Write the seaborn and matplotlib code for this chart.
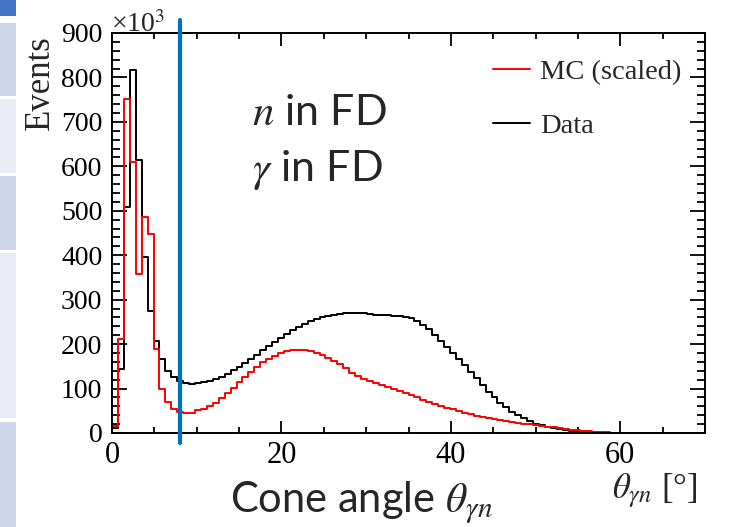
import numpy as np
import pandas as pd
import matplotlib
matplotlib.use("Agg")
import matplotlib.pyplot as plt
from matplotlib.lines import Line2D
from matplotlib.patches import Rectangle
import seaborn as sns

# Histogram binning: 100 bins over 0-70 degrees
bin_edges = np.linspace(0.0, 70.0, 101)
bin_centers = 0.5 * (bin_edges[:-1] + bin_edges[1:])

# Events per bin, in units of 10^3
data_counts = [
    12, 145, 508, 816, 614, 396, 275, 208, 166, 140,
    125, 116, 112, 111, 112, 114, 118, 122, 127, 133,
    141, 149, 157, 166, 176, 186, 196, 205, 214, 223,
    231, 239, 246, 252, 257, 261, 264, 266, 268, 269,
    270, 270, 269, 267, 266, 265, 265, 264, 263, 261,
    258, 252, 243, 233, 220, 207, 193, 180, 166, 153,
    138, 123, 108, 93, 80, 68, 58, 48, 40, 33,
    27, 21, 17, 14, 11, 9, 7, 5.5, 4.2, 3.0,
    2.2, 1.5, 1.0, 0.6, 0.4, 0.2, 0, 0, 0, 0,
    0, 0, 0, 0, 0, 0, 0, 0, 0, 0,
]
mc_counts = [
    15, 212, 752, 610, 357, 486, 448, 190, 99, 70,
    55, 48, 46, 46, 51, 55, 61, 68, 78, 90,
    102, 114, 126, 138, 149, 159, 167, 174, 180, 184,
    186, 187, 187, 185, 180, 175, 169, 163, 155, 146,
    136, 128, 121, 116, 112, 108, 103, 99, 94, 89,
    85, 80, 75, 70, 66, 61, 57, 53, 49, 45,
    42, 39, 36, 33, 31, 29, 27, 25, 23, 21,
    20, 18, 16, 14, 12.5, 11, 9, 7.5, 6, 4.8,
    3.8, 2.8, 2.0, 1.3, 0.8, 0.3, 0, 0, 0, 0,
    0, 0, 0, 0, 0, 0, 0, 0, 0, 0,
]
series_labels = ["MC (scaled)", "Data"]
series_colors = {"MC (scaled)": "#ff0000", "Data": "#000000"}
cut_angle = 8.0
x_ticks = [0, 20, 40, 60]
y_ticks = list(range(0, 1000, 100))

df = pd.DataFrame({
    "angle": np.concatenate([bin_centers, bin_centers]),
    "events": np.concatenate([data_counts, mc_counts]).astype(float),
    "sample": ["Data"] * len(bin_centers) + ["MC (scaled)"] * len(bin_centers),
})

sns.set_theme(style="ticks")
serif = ["Liberation Serif", "DejaVu Serif"]
plt.rcParams["font.family"] = serif
plt.rcParams["mathtext.fontset"] = "stix"

W, H = 731, 527
fig = plt.figure(figsize=(W / 100, H / 100), dpi=100)
fig.patch.set_facecolor("white")

def fx(px):
    return px / W

def fy(py):
    return 1 - py / H

# slide thumbnail strip on the left edge
strip = [(0, 16, "#4472C4"), (23, 96, "#CFD5EA"), (99, 173, "#E9EBF5"),
         (176, 250, "#CFD5EA"), (253, 418, "#E9EBF5"), (422, 527, "#CFD5EA")]
for top, bot, col in strip:
    fig.patches.append(Rectangle((0, fy(bot)), fx(16), (bot - top) / H,
                                 transform=fig.transFigure, facecolor=col,
                                 edgecolor="none", zorder=0))

ax = fig.add_axes([fx(112), fy(433), fx(705) - fx(112), (433 - 33) / H])
ax.set_facecolor("white")

for name in ["Data", "MC (scaled)"]:
    sub = df[df["sample"] == name]
    sns.histplot(data=sub, x="angle", weights="events",
                 bins=bin_edges.tolist(), element="step", fill=False,
                 color=series_colors[name], linewidth=1.4, ax=ax)

ax.axvline(cut_angle, ymin=-0.025, ymax=1.033, color="#0070C0",
           linewidth=3.0, clip_on=False, zorder=5)

ax.set_xlim(0, 70)
ax.set_ylim(0, 900)
ax.set_xlabel("")
ax.set_ylabel("")
ax.set_xticks(x_ticks)
ax.set_yticks(y_ticks)
ax.set_xticks(np.arange(0, 71, 5), minor=True)
ax.set_yticks(np.arange(0, 901, 20), minor=True)
for s in ax.spines.values():
    s.set_linewidth(1.4)
    s.set_color("black")
ax.tick_params(axis="both", which="both", direction="in", top=True,
               right=True, color="black", width=1.3,
               labelfontfamily="Liberation Serif", labelcolor="black")
ax.tick_params(axis="x", which="major", length=9, labelsize=22, pad=6)
ax.tick_params(axis="x", which="minor", length=4.5)
ax.tick_params(axis="y", which="major", length=10.5, labelsize=20, pad=7)
ax.tick_params(axis="y", which="minor", length=5.5)

fig.text(fx(40), fy(35), "Events", rotation=90, ha="center", va="top",
         fontsize=25, family=serif)
fig.text(fx(111), fy(32), r"×10$^{3}$", ha="left", va="baseline",
         fontsize=20, family=serif)
fig.text(fx(612), fy(498), r"$\theta_{\gamma n}$ [°]", ha="left",
         va="baseline", fontsize=25, family=serif)

handles = [Line2D([], [], color=series_colors[n], linewidth=1.4)
           for n in series_labels]
ax.legend(handles, series_labels, loc="upper left",
          bbox_to_anchor=(fx(493), fy(59)), bbox_transform=fig.transFigure,
          frameon=False, handlelength=1.3, handletextpad=0.35,
          labelspacing=1.0, borderpad=0, borderaxespad=0,
          prop={"family": serif, "size": 20.5})

big = ["Lato", "DejaVu Sans"]
fig.text(fx(252), fy(125), r"$n$ in FD", family=big, fontsize=31,
         ha="left", va="baseline")
fig.text(fx(252), fy(181), r"$\gamma$ in FD", family=big, fontsize=31,
         ha="left", va="baseline")
fig.text(fx(230), fy(512), r"Cone angle $\theta_{\gamma n}$", family=big,
         fontsize=30, ha="left", va="baseline")

fig.savefig("out.png", dpi=100)
